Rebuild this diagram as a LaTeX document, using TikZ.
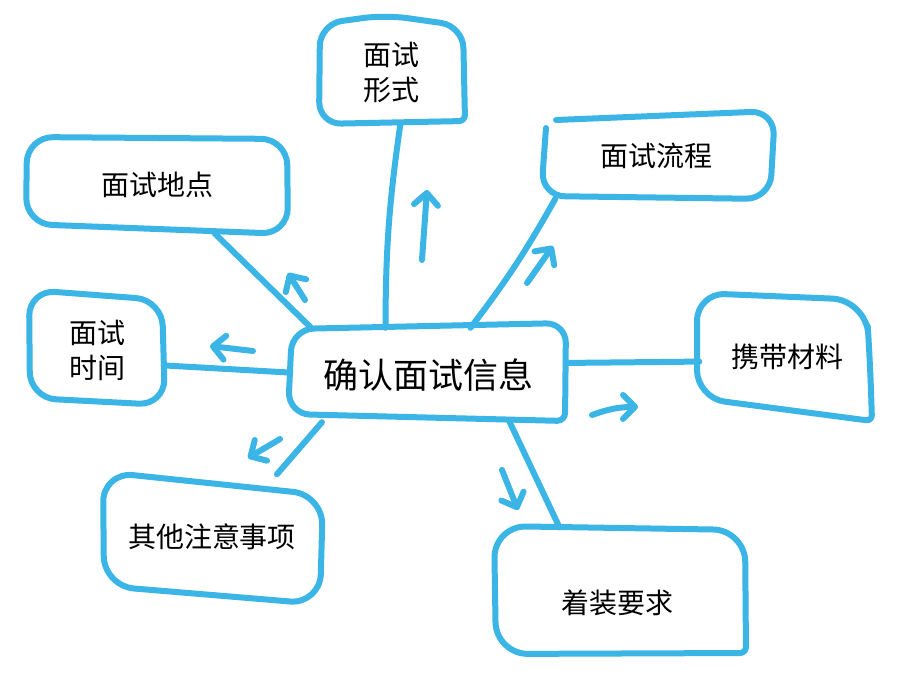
\documentclass[tikz,border=0pt]{standalone}
\usepackage{fontspec}
\newfontfamily\cjk{Noto Sans CJK SC}
\usetikzlibrary{arrows.meta}
\definecolor{skyb}{RGB}{59,181,230}
\begin{document}
\begin{tikzpicture}[x=1pt,y=-1pt,
  ink/.style={draw=skyb,line width=6pt,line cap=round,line join=round},
  hit/.style={inner sep=0pt,font=\cjk\fontsize{28}{35}\selectfont,align=center,text=black},
  arr/.style={ink,-{Straight Barb[length=12pt,width=24pt,round]}}]
\useasboundingbox[fill=white] (0,0) rectangle (906,687);

% ---- outlines (hand-drawn boxes)
\draw[ink,rounded corners=20pt] (292,329) -- (566,323) [rounded corners=8pt] -- (565,421) [rounded corners=22pt] -- (288,414) -- cycle;
\draw[ink,rounded corners=22pt] (320,24) -- (385,15) -- (463,26) [rounded corners=6pt] -- (465,121) [rounded corners=22pt] -- (319,124) -- cycle;
\draw[ink,rounded corners=24pt] (546,128) -- (541,196) -- (770,199) -- (775,111) -- (556,120);
\draw[ink,rounded corners=26pt] (27,137) -- (287,139) -- (288,234) -- (26,224) -- cycle;
\draw[ink,rounded corners=26pt] (29,290) -- (162,300) -- (165,405) -- (30,398) -- cycle;
\draw[ink,rounded corners=34pt] (697,293) -- (866,300) -- (870,360) [rounded corners=6pt] -- (872,421) [rounded corners=28pt] -- (697,398) -- cycle;
\draw[ink,rounded corners=30pt] (103,472) -- (323,495) -- (320,604) -- (104,586) -- cycle;
\draw[ink,rounded corners=32pt] (494,526) -- (745,530) [rounded corners=6pt] -- (746,653) [rounded corners=32pt] -- (496,654) -- cycle;

% ---- nodes
\node[hit,minimum width=275pt,minimum height=94pt,font=\cjk\fontsize{35}{40}\selectfont] (c) at (428,375) {确认面试信息};
\node[hit,minimum width=147pt,minimum height=104pt] (form) at (391,73) {面试\\形式};
\node[hit,minimum width=232pt,minimum height=85pt] (flow) at (656,156) {面试流程};
\node[hit,minimum width=262pt,minimum height=96pt] (place) at (157,185) {面试地点};
\node[hit,minimum width=133pt,minimum height=111pt] (time) at (97,350) {面试\\时间};
\node[hit,minimum width=175pt,minimum height=125pt] (carry) at (787,357) {携带材料};
\node[hit,minimum width=219pt,minimum height=125pt] (other) at (212,537) {其他注意事项};
\node[hit,minimum width=250pt,minimum height=125pt] (dress) at (620,590) {};
\node[hit] (dress-t) at (617,603) {着装要求};

% ---- connectors
\draw[ink] (form.280) to[bend right=4] (c.132);
\draw[ink] (flow.203) to[bend left=4] (c.48);
\draw[ink] (place.320) -- (c.158);
\draw[ink] (time.347) -- (c.179);
\draw[ink] (c.5) -- (carry.183);
\draw[ink] (c.204) -- (other.44);
\draw[ink] (c.330) -- (dress.134);

% ---- free arrows
\coordinate (a1s) at (422,260); \coordinate (a1e) at (427,190);
\coordinate (a2s) at (527,283); \coordinate (a2e) at (553,246);
\coordinate (a3s) at (305,300); \coordinate (a3e) at (288,273);
\coordinate (a4s) at (253,351); \coordinate (a4e) at (210,346);
\coordinate (a5s) at (592,415); \coordinate (a5e) at (638,407);
\coordinate (a6s) at (280,439); \coordinate (a6e) at (248,458);
\coordinate (a7s) at (502,470); \coordinate (a7e) at (518,510);
\draw[arr] (a1s) -- (a1e);
\draw[arr] (a2s) -- (a2e);
\draw[arr] (a3s) -- (a3e);
\draw[arr] (a4s) -- (a4e);
\draw[arr] (a5s) to[bend left=10] (a5e);
\draw[arr] (a6s) -- (a6e);
\draw[arr] (a7s) -- (a7e);
\end{tikzpicture}
\end{document}
